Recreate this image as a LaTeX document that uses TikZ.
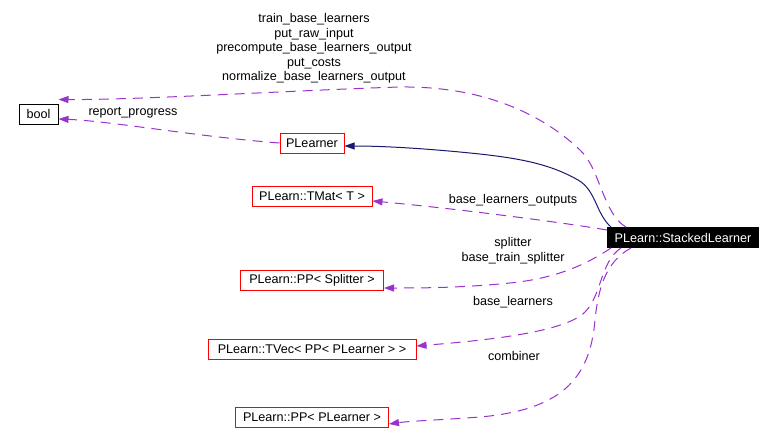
\documentclass[tikz,border=0pt]{standalone}
\usepackage{fontspec}
\setmainfont{Liberation Sans}
\usetikzlibrary{arrows.meta, positioning}
\definecolor{usepurple}{HTML}{9A32CD}
\definecolor{inhnavy}{HTML}{191970}
\tikzset{
    classbox/.style={rectangle, draw=red, fill=white, line width=1pt, inner xsep=6pt, inner ysep=0pt, minimum height=20pt, font=\fontsize{12.6}{14.6}\selectfont},
    plainbox/.style={classbox, draw=black},
    mainbox/.style={classbox, draw=black, fill=black, text=white},
    member/.style={inner sep=0pt, align=center, font=\fontsize{12.6}{14.6}\selectfont},
    usage/.style={draw=usepurple, line width=1pt, dash pattern=on 10pt off 7pt, -{Triangle[length=10pt, width=7pt]}},
    inherit/.style={draw=inhnavy, line width=1pt, -{Triangle[length=10pt, width=7pt]}}
}

\begin{document}
\begin{tikzpicture}[x=1pt, y=-1pt]
    \useasboundingbox (0,0) rectangle (774,444);

    \node (sl) [mainbox, minimum width=151pt] at (683,237.5) {PLearn::StackedLearner};
    \node (bool) [plainbox, minimum width=39pt] at (38.5,114) {bool};
    \node (plearner) [classbox, minimum width=64pt] at (312,143) {PLearner};
    \node (tmat) [classbox, minimum width=120pt, below=32pt of plearner] {PLearn::TMat< T >};
    \node (splitter) [classbox, minimum width=143pt, below=63pt of tmat] {PLearn::PP< Splitter >};
    \node (tvec) [classbox, minimum width=208pt, below=48pt of splitter] {PLearn::TVec< PP< PLearner > >};
    \node (ppl) [classbox, minimum width=153pt, below=47pt of tvec] {PLearn::PP< PLearner >};

    % member names
    \node (lbool) [member] at (314,48.5) {train\_base\_learners\\put\_raw\_input\\precompute\_base\_learners\_output\\put\_costs\\normalize\_base\_learners\_output};
    \node (lprog) [member] at (133,113) {report\_progress};
    \node (lout) [member] at (513,200) {base\_learners\_outputs};
    \node (lsplit) [member] at (513,250.5) {splitter\\base\_train\_splitter};
    \node (lbase) [member] at (513,302) {base\_learners};
    \node (lcomb) [member] at (514,356) {combiner};

    % edges
    \draw [usage] ([xshift=19pt]sl.north west) .. controls (603,214) and (600,168) .. (580,150)
        .. controls (540,112) and (480,86) .. (400,87)
        .. controls (300,90) and (140,100) .. ([yshift=4pt]bool.north east);
    \draw [usage] (plearner.west) .. controls (200,137) and (110,121) .. ([yshift=-5pt]bool.east);
    \draw [inherit] ([xshift=4pt]sl.north west) .. controls (596,214) and (596,190) .. (578,180)
        .. controls (550,164) and (520,158) .. (470,153)
        .. controls (420,148) and (380,146) .. ([yshift=-3pt]plearner.east);
    \draw [usage] ([yshift=-3pt]sl.north west) .. controls (560,222) and (450,208) .. ([yshift=-5pt]tmat.east);
    \draw [usage] ([xshift=4pt]sl.south west) .. controls (590,262) and (560,278) .. (510,283)
        .. controls (460,288) and (420,288) .. ([yshift=-8pt]splitter.east);
    \draw [usage] ([xshift=14pt]sl.south west) .. controls (600,262) and (602,295) .. (585,312)
        .. controls (565,332) and (490,340) .. ([yshift=3pt]tvec.east);
    \draw [usage] ([xshift=24pt]sl.south west) .. controls (605,262) and (598,290) .. (595,320)
        .. controls (590,380) and (560,410) .. (480,417)
        .. controls (440,420) and (410,421) .. ([yshift=-7pt]ppl.east);
\end{tikzpicture}
\end{document}
